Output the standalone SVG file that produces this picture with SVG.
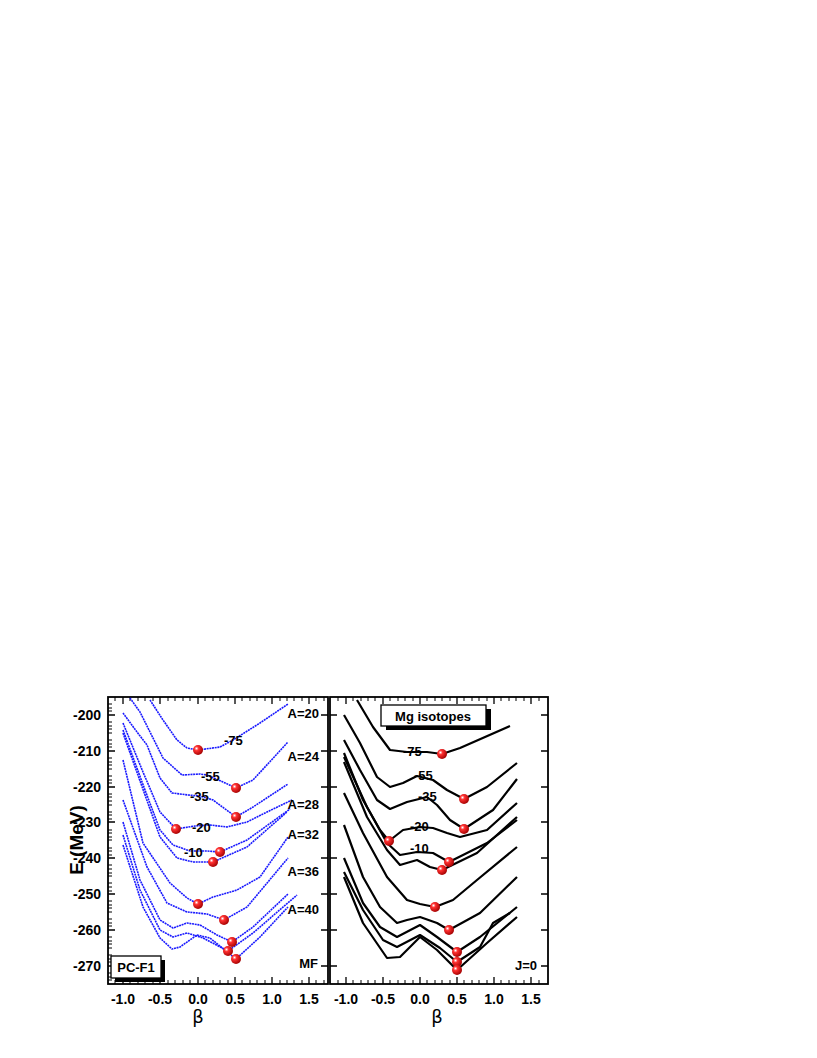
<svg xmlns="http://www.w3.org/2000/svg" width="817" height="1058" viewBox="0 0 817 1058">
<style>
.b{fill:none;stroke:#1a1aff;stroke-width:1.6;stroke-dasharray:2 0.7;stroke-linejoin:round}
.k{fill:none;stroke:#000;stroke-width:2.2;stroke-linejoin:round}
.t{font-family:"Liberation Sans",Arial,sans-serif;font-weight:bold;font-size:13px;fill:#000}
.ax{font-family:"Liberation Sans",Arial,sans-serif;font-weight:bold;font-size:14px;fill:#000}
.tk{stroke:#000;stroke-width:1.3}
</style>
<defs>
<radialGradient id="g" cx="0.35" cy="0.35" r="0.7"><stop offset="0" stop-color="#fff"/><stop offset="0.3" stop-color="#ff3030"/><stop offset="1" stop-color="#a00000"/></radialGradient>
<g id="d"><circle r="5" fill="url(#g)"/></g>
</defs>
<rect width="817" height="1058" fill="#fff"/>
<g id="frames" fill="none" stroke="#000" stroke-width="1.8">
<rect x="108" y="697" width="220" height="287"/>
<rect x="330" y="697" width="218" height="287"/>
</g>
<g id="ticks" class="tk">
<path d="M108,715h7M108,751h7M108,787h7M108,822h7M108,858h7M108,894h7M108,930h7M108,966h7M328,715h-7M328,751h-7M328,787h-7M328,822h-7M328,858h-7M328,894h-7M328,930h-7M328,966h-7
M330,715h7M330,751h7M330,787h7M330,822h7M330,858h7M330,894h7M330,930h7M330,966h7M548,715h-7M548,751h-7M548,787h-7M548,822h-7M548,858h-7M548,894h-7M548,930h-7M548,966h-7"/>
<path stroke-width="1" d="M108,704h4M108,708h4M108,711h4M108,722h4M108,726h4M108,729h4M108,733h4M108,740h4M108,744h4M108,747h4M108,758h4M108,762h4M108,765h4M108,769h4M108,776h4M108,780h4M108,783h4M108,794h4M108,797h4M108,801h4M108,805h4M108,812h4M108,815h4M108,819h4M108,830h4M108,833h4M108,837h4M108,840h4M108,848h4M108,851h4M108,855h4M108,865h4M108,869h4M108,873h4M108,876h4M108,883h4M108,887h4M108,891h4M108,901h4M108,905h4M108,908h4M108,912h4M108,919h4M108,923h4M108,926h4M108,937h4M108,941h4M108,944h4M108,948h4M108,955h4M108,959h4M108,962h4M108,973h4M108,977h4M108,980h4"/>
</g>
<g id="xticks" class="tk">
<path d="M123,984v-7M160,984v-7M198,984v-7M235,984v-7M272,984v-7M309,984v-7M123,697v7M160,697v7M198,697v7M235,697v7M272,697v7M309,697v7
M346,984v-7M383,984v-7M420,984v-7M457,984v-7M494,984v-7M531,984v-7M346,697v7M383,697v7M420,697v7M457,697v7M494,697v7M531,697v7"/>
<path stroke-width="1" d="M115,984v-4M130,984v-4M138,984v-4M145,984v-4M153,984v-4M168,984v-4M175,984v-4M183,984v-4M190,984v-4M205,984v-4M213,984v-4M220,984v-4M228,984v-4M242,984v-4M250,984v-4M257,984v-4M265,984v-4M280,984v-4M287,984v-4M294,984v-4M302,984v-4M316,984v-4M324,984v-4
M115,697v4M130,697v4M138,697v4M145,697v4M153,697v4M168,697v4M175,697v4M183,697v4M190,697v4M205,697v4M213,697v4M220,697v4M228,697v4M242,697v4M250,697v4M257,697v4M265,697v4M280,697v4M287,697v4M294,697v4M302,697v4M316,697v4M324,697v4
M338,984v-4M353,984v-4M361,984v-4M368,984v-4M375,984v-4M390,984v-4M398,984v-4M405,984v-4M413,984v-4M427,984v-4M435,984v-4M442,984v-4M450,984v-4M464,984v-4M472,984v-4M479,984v-4M487,984v-4M501,984v-4M509,984v-4M516,984v-4M524,984v-4M539,984v-4
M338,697v4M353,697v4M361,697v4M368,697v4M375,697v4M390,697v4M398,697v4M405,697v4M413,697v4M427,697v4M435,697v4M442,697v4M450,697v4M464,697v4M472,697v4M479,697v4M487,697v4M501,697v4M509,697v4M516,697v4M524,697v4M539,697v4"/>
</g>
<g id="axislabels" class="ax">
<g text-anchor="end"><text x="101" y="720">-200</text><text x="101" y="756">-210</text><text x="101" y="792">-220</text><text x="101" y="827">-230</text><text x="101" y="863">-240</text><text x="101" y="899">-250</text><text x="101" y="935">-260</text><text x="101" y="971">-270</text></g>
<g text-anchor="middle"><text x="123" y="1004">-1.0</text><text x="160" y="1004">-0.5</text><text x="198" y="1004">0.0</text><text x="235" y="1004">0.5</text><text x="272" y="1004">1.0</text><text x="309" y="1004">1.5</text>
<text x="346" y="1004">-1.0</text><text x="383" y="1004">-0.5</text><text x="420" y="1004">0.0</text><text x="457" y="1004">0.5</text><text x="494" y="1004">1.0</text><text x="531" y="1004">1.5</text>
<text x="198" y="1023" font-size="18" font-weight="normal" font-family="DejaVu Sans,sans-serif">β</text><text x="437" y="1023" font-size="18" font-weight="normal" font-family="DejaVu Sans,sans-serif">β</text></g>
<text transform="translate(83,840) rotate(-90)" text-anchor="middle" font-size="19">E (MeV)</text>
</g>
<g id="connectors">
<polyline class="b" points="150,700 163,720 177,740 187,748 198,750 220,747 233,740 260,723 288,704"/>
<polyline class="b" points="130,698 140,712 150,732 163,758 182,775 200,774 207,775 223,782 236,788 253,780 288,742"/>
<polyline class="b" points="123,713 137,732 147,745 160,778 172,793 188,795 200,796 213,800 236,817 253,807 288,784"/>
<polyline class="b" points="123,723 143,772 160,812 176,829 195,826 210,825 227,827 247,822 267,812 292,800"/>
<polyline class="b" points="123,730 145,790 160,830 173,845 190,851 207,851 220,852 247,840 290,809"/>
<polyline class="b" points="123,733 145,795 160,837 177,858 193,862 213,862 247,847 287,812"/>
<polyline class="b" points="123,760 143,843 170,883 187,898 198,904 213,897 237,890 260,877 288,837"/>
<polyline class="b" points="123,800 147,867 167,903 187,912 207,914 224,920 247,907 288,858"/>
<polyline class="b" points="123,822 140,880 160,920 173,928 187,923 200,925 217,935 232,942 253,927 288,894"/>
<polyline class="b" points="123,835 140,890 160,930 173,937 187,933 203,938 228,951 253,933 297,895"/>
<polyline class="b" points="123,845 143,907 160,938 172,949 180,947 197,935 210,938 236,959 260,937 288,907"/>
<polyline class="k" points="357,700 373,727 390,750 407,752 427,752 442,754 460,748 510,726"/>
<polyline class="k" points="344,715 360,743 377,777 390,787 403,783 417,776 433,780 447,790 464,799 487,787 517,763"/>
<polyline class="k" points="344,740 360,770 377,800 390,809 407,802 427,797 437,805 450,820 464,829 493,810 517,779"/>
<polyline class="k" points="344,753 363,800 380,830 389,841 403,830 420,827 433,828 447,833 460,837 487,830 517,803"/>
<polyline class="k" points="344,757 367,807 387,843 400,855 417,852 433,853 449,862 487,843 517,820"/>
<polyline class="k" points="344,762 367,817 387,850 400,865 417,860 430,867 442,870 477,853 517,817"/>
<polyline class="k" points="344,793 363,833 387,877 407,900 420,904 435,907 453,900 477,880 517,847"/>
<polyline class="k" points="344,825 363,877 380,907 397,923 407,920 420,917 437,923 449,930 480,913 517,877"/>
<polyline class="k" points="344,858 363,903 380,927 397,937 420,925 437,937 457,952 480,937 517,907"/>
<polyline class="k" points="344,872 363,910 383,940 397,947 420,935 440,948 457,962 480,947 493,923 510,913"/>
<polyline class="k" points="344,877 363,923 387,958 400,957 420,937 437,950 457,970 487,943 517,917"/>
</g>
<g id="dots">
<use href="#d" x="198" y="750"/><use href="#d" x="236" y="788"/><use href="#d" x="236" y="817"/><use href="#d" x="176" y="829"/><use href="#d" x="220" y="852"/><use href="#d" x="213" y="862"/><use href="#d" x="198" y="904"/><use href="#d" x="224" y="920"/><use href="#d" x="232" y="942"/><use href="#d" x="228" y="951"/><use href="#d" x="236" y="959"/>
<use href="#d" x="442" y="754"/><use href="#d" x="464" y="799"/><use href="#d" x="464" y="829"/><use href="#d" x="389" y="841"/><use href="#d" x="449" y="862"/><use href="#d" x="442" y="870"/><use href="#d" x="435" y="907"/><use href="#d" x="449" y="930"/><use href="#d" x="457" y="952"/><use href="#d" x="457" y="962"/><use href="#d" x="457" y="970"/>
</g>
<g id="labels" class="t">
<text x="224" y="745">-75</text><text x="201" y="781">-55</text><text x="190" y="801">-35</text><text x="192" y="832">-20</text><text x="184" y="857">-10</text>
<text x="403" y="756">-75</text><text x="414" y="780">-55</text><text x="418" y="801">-35</text><text x="410" y="831">-20</text><text x="410" y="853">-10</text>
<g text-anchor="end"><text x="319" y="718">A=20</text><text x="319" y="761">A=24</text><text x="319" y="809">A=28</text><text x="319" y="839">A=32</text><text x="319" y="876">A=36</text><text x="319" y="914">A=40</text><text x="318" y="968">MF</text><text x="537" y="970">J=0</text></g>
</g>
<g id="pcf1">
<rect x="115" y="960" width="50" height="22" fill="#000"/>
<rect x="111" y="956" width="50" height="22" fill="#fff" stroke="#000" stroke-width="1.3"/>
<text x="136" y="972" class="t" text-anchor="middle" font-size="14">PC-F1</text>
</g>
<g id="mg">
<rect x="386" y="709" width="105" height="21" fill="#000"/>
<rect x="381" y="705" width="105" height="21" fill="#fff" stroke="#000" stroke-width="1.3"/>
<text x="433" y="721" class="t" text-anchor="middle" font-size="14">Mg isotopes</text>
</g>
</svg>
